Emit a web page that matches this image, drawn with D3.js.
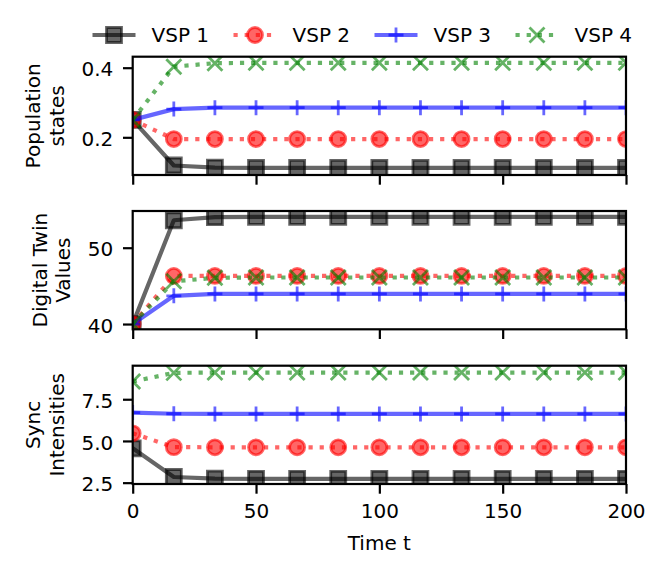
<!DOCTYPE html>
<html>
<head>
<meta charset="utf-8"/>
<script src="https://d3js.org/d3.v7.min.js"></script>
<style type="text/css">
body {
  margin: 0;
  background: #fff;
}
text {
  font-family: "DejaVu Sans", sans-serif;
  font-size: 20px;
  fill: #000;
}
</style>
</head>
<body>
<div id="v"></div>
<script type="text/javascript">
// time axis (13 samples over 0..200)
var times = [0, 16.67, 33.33, 50, 66.67, 83.33, 100, 116.67, 133.33, 150, 166.67, 183.33, 200];
var seriesNames = ["VSP 1", "VSP 2", "VSP 3", "VSP 4"];

// panel 1: population states
var popVsp1 = [0.250, 0.119, 0.113, 0.112, 0.112, 0.112, 0.112, 0.112, 0.112, 0.112, 0.112, 0.112, 0.112];
var popVsp2 = [0.250, 0.195, 0.195, 0.195, 0.195, 0.195, 0.195, 0.195, 0.195, 0.195, 0.195, 0.195, 0.195];
var popVsp3 = [0.250, 0.281, 0.285, 0.285, 0.285, 0.285, 0.285, 0.285, 0.285, 0.285, 0.285, 0.285, 0.285];
var popVsp4 = [0.250, 0.403, 0.413, 0.414, 0.414, 0.414, 0.414, 0.414, 0.414, 0.414, 0.414, 0.414, 0.414];

// panel 2: digital twin values
var twinVsp1 = [40.0, 53.6, 54.0, 54.05, 54.05, 54.05, 54.05, 54.05, 54.05, 54.05, 54.05, 54.05, 54.05];
var twinVsp2 = [40.0, 46.3, 46.3, 46.3, 46.3, 46.3, 46.3, 46.3, 46.3, 46.3, 46.3, 46.3, 46.3];
var twinVsp3 = [40.0, 43.7, 43.95, 43.95, 43.95, 43.95, 43.95, 43.95, 43.95, 43.95, 43.95, 43.95, 43.95];
var twinVsp4 = [40.0, 45.6, 46.05, 46.1, 46.1, 46.1, 46.1, 46.1, 46.1, 46.1, 46.1, 46.1, 46.1];

// panel 3: sync intensities
var syncVsp1 = [4.56, 2.84, 2.74, 2.73, 2.73, 2.73, 2.73, 2.73, 2.73, 2.73, 2.73, 2.73, 2.73];
var syncVsp2 = [5.46, 4.63, 4.62, 4.62, 4.62, 4.62, 4.62, 4.62, 4.62, 4.62, 4.62, 4.62, 4.62];
var syncVsp3 = [6.70, 6.63, 6.62, 6.62, 6.62, 6.62, 6.62, 6.62, 6.62, 6.62, 6.62, 6.62, 6.62];
var syncVsp4 = [8.56, 9.08, 9.10, 9.10, 9.10, 9.10, 9.10, 9.10, 9.10, 9.10, 9.10, 9.10, 9.10];

var panelLabels = [["Population", "states"], ["Digital Twin", "Values"], ["Sync", "Intensities"]];
var yTicks = [[0.2, 0.4], [40, 50], [2.5, 5.0, 7.5]];
var yDomains = [[0.0917, 0.4316], [39.31, 54.81], [2.42, 9.51]];
var xTicks = [0, 50, 100, 150, 200];
var xLabel = "Time t";

var panels = [
  [popVsp1, popVsp2, popVsp3, popVsp4],
  [twinVsp1, twinVsp2, twinVsp3, twinVsp4],
  [syncVsp1, syncVsp2, syncVsp3, syncVsp4]
];
var tickFormats = [d3.format(".1f"), d3.format("d"), d3.format(".1f")];

// look of each series (matplotlib-ish: k-s, r:o, b-+, g:x, alpha .6)
var styles = [
  {color: "#000000", dotted: false, marker: "square"},
  {color: "#ff0000", dotted: true,  marker: "circle"},
  {color: "#0000ff", dotted: false, marker: "plus"},
  {color: "#008000", dotted: true,  marker: "x"}
];

var width = 664, height = 570;
var left = 132.7, right = 626;
var panelTops = [56.7, 211, 365.7];
var panelH = 118.3;
var lw = 4.2, ms = 15, mew = 2.8, alpha = 0.6;
var tickLen = 9.7, tickPad = 9.7;
var fontPx = 20;

var h = ms / 2;
var markerPaths = {
  square: "M" + (-h) + "," + (-h) + "h" + ms + "v" + ms + "h" + (-ms) + "z",
  circle: "M" + h + ",0A" + h + "," + h + " 0 1,1 " + (-h) + ",0A" + h + "," + h + " 0 1,1 " + h + ",0Z",
  plus: "M" + (-h) + ",0H" + h + "M0," + (-h) + "V" + h,
  x: "M" + (-h) + "," + (-h) + "L" + h + "," + h + "M" + (-h) + "," + h + "L" + h + "," + (-h)
};
var filled = {square: true, circle: true, plus: false, x: false};

function styleLine(sel, st) {
  sel.attr("fill", "none")
    .attr("stroke", st.color)
    .attr("stroke-opacity", alpha)
    .attr("stroke-width", lw)
    .attr("stroke-linejoin", "round")
    .attr("stroke-linecap", st.dotted ? "butt" : "square")
    .attr("stroke-dasharray", st.dotted ? (lw * 1) + "," + (lw * 1.65) : null);
}
function styleMarker(sel, st) {
  sel.attr("d", markerPaths[st.marker])
    .attr("fill", filled[st.marker] ? st.color : "none")
    .attr("fill-opacity", alpha)
    .attr("stroke", st.color)
    .attr("stroke-opacity", alpha)
    .attr("stroke-width", mew);
}

var svg = d3.select("#v").append("svg")
  .attr("width", width)
  .attr("height", height);

var x = d3.scaleLinear().domain([0, 200]).range([left, right]);

panels.forEach(function(series, p) {
  var top = panelTops[p];
  var y = d3.scaleLinear().domain(yDomains[p]).range([top + panelH, top]);
  var g = svg.append("g");

  var clipId = "clip" + p;
  svg.append("clipPath").attr("id", clipId)
    .append("rect")
    .attr("x", left).attr("y", top)
    .attr("width", right - left).attr("height", panelH);

  var plot = g.append("g").attr("clip-path", "url(#" + clipId + ")");
  var line = d3.line()
    .x(function(d, i) { return x(times[i]); })
    .y(function(d) { return y(d); });

  series.forEach(function(vals, s) {
    var st = styles[s];
    plot.append("path").datum(vals).attr("d", line).call(styleLine, st);
    plot.selectAll(".m" + s)
      .data(vals).enter()
      .append("path")
      .attr("class", "m" + s)
      .attr("transform", function(d, i) { return "translate(" + x(times[i]) + "," + y(d) + ")"; })
      .call(styleMarker, st);
  });

  // y axis
  var yAxis = g.append("g")
    .attr("transform", "translate(" + left + ",0)")
    .call(d3.axisLeft(y).tickValues(yTicks[p]).tickFormat(tickFormats[p])
      .tickSize(tickLen).tickSizeOuter(0).tickPadding(tickPad));
  yAxis.select(".domain").remove();
  yAxis.selectAll(".tick line").attr("stroke", "#000").attr("stroke-width", 2.2);
  yAxis.selectAll(".tick text").attr("dy", "0.41em")
    .style("font-family", "DejaVu Sans").style("font-size", fontPx + "px");

  // x axis ticks on every panel, labels only on the bottom one
  var xAxis = g.append("g")
    .attr("transform", "translate(0," + (top + panelH) + ")")
    .call(d3.axisBottom(x).tickValues(xTicks).tickFormat(d3.format("d"))
      .tickSize(tickLen).tickSizeOuter(0).tickPadding(tickPad));
  xAxis.select(".domain").remove();
  xAxis.selectAll(".tick line").attr("stroke", "#000").attr("stroke-width", 2.2);
  xAxis.selectAll(".tick text").attr("dy", "0.75em")
    .style("font-family", "DejaVu Sans").style("font-size", fontPx + "px");
  if (p < panels.length - 1) xAxis.selectAll(".tick text").remove();

  // frame
  g.append("rect")
    .attr("x", left).attr("y", top)
    .attr("width", right - left).attr("height", panelH)
    .attr("fill", "none").attr("stroke", "#000").attr("stroke-width", 2.2);

  // two-line y label, placed left of the widest tick label
  var maxW = 0;
  yAxis.selectAll(".tick text").each(function() {
    maxW = Math.max(maxW, this.getComputedTextLength());
  });
  var base2 = left - tickLen - tickPad - maxW - 17.5;
  var cy = top + panelH / 2;
  panelLabels[p].forEach(function(t, k) {
    var bx = base2 - (panelLabels[p].length - 1 - k) * 23.5;
    g.append("text")
      .attr("transform", "translate(" + bx + "," + cy + ") rotate(-90)")
      .attr("text-anchor", "middle")
      .text(t);
  });
});

// x label
svg.append("text")
  .attr("x", (left + right) / 2)
  .attr("y", 550)
  .attr("text-anchor", "middle")
  .text(xLabel);

// legend across the top
var legend = svg.append("g");
seriesNames.forEach(function(name, s) {
  var st = styles[s];
  var x0 = 92.5 + s * 141, hl = 43, ly = 35;
  var item = legend.append("g");
  item.append("path")
    .attr("d", "M" + x0 + "," + ly + "H" + (x0 + hl))
    .call(styleLine, st)
    .attr("stroke-linecap", "butt");
  item.append("path")
    .attr("transform", "translate(" + (x0 + hl / 2) + "," + ly + ")")
    .call(styleMarker, st);
  item.append("text")
    .attr("x", x0 + hl + 16)
    .attr("y", 42.3)
    .text(name);
});
</script>
</body>
</html>
